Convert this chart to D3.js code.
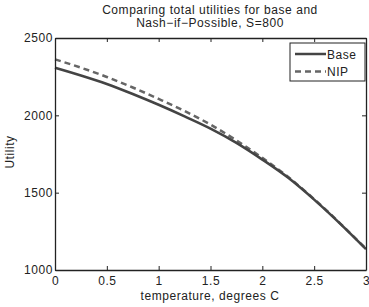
<!DOCTYPE html>
<html>
<head>
<meta charset="utf-8">
<script src="https://cdn.jsdelivr.net/npm/d3@7.9.0/dist/d3.min.js"></script>
<style>
  body { margin: 0; background: #fff; }
  text { font-family: "Liberation Sans", Arial, sans-serif; fill: #222; font-size: 12px; letter-spacing: 0.55px; }
</style>
</head>
<body>
<svg id="chart" width="369" height="307"></svg>
<script>
// values
const temps = [0, 0.25, 0.5, 0.75, 1, 1.25, 1.5, 1.75, 2, 2.25, 2.5, 2.75, 3];
const baseUtil = [2308, 2258, 2203, 2138, 2068, 1993, 1914, 1822, 1714, 1596, 1455, 1300, 1135];
const nipUtil = [2362, 2308, 2248, 2180, 2106, 2028, 1940, 1838, 1725, 1601, 1458, 1302, 1137];
const xTicks = [0, 0.5, 1, 1.5, 2, 2.5, 3];
const yTicks = [1000, 1500, 2000, 2500];
const seriesNames = ['Base', 'NIP'];

const svg = d3.select('#chart');
const plotL = 55, plotR = 366, plotT = 38, plotB = 270;

const x = d3.scaleLinear().domain([0, 3]).range([plotL, plotR]);
const y = d3.scaleLinear().domain([1000, 2500]).range([plotB, plotT]);

// title
svg.append('text').attr('x', 210).attr('y', 14).attr('text-anchor', 'middle')
  .text('Comparing total utilities for base and');
svg.append('text').attr('x', 210).attr('y', 27).attr('text-anchor', 'middle')
  .text('Nash\u2212if\u2212Possible, S=800');

// lines
const line = d3.line().x((d, i) => x(temps[i])).y(d => y(d)).curve(d3.curveMonotoneX);
svg.append('path').attr('d', line(nipUtil)).attr('fill', 'none')
  .attr('stroke', '#666').attr('stroke-width', 2.5).attr('stroke-dasharray', '6,4');
svg.append('path').attr('d', line(baseUtil)).attr('fill', 'none')
  .attr('stroke', '#444').attr('stroke-width', 2.6);

// axes, MATLAB style box with inward ticks
const axisColor = '#222';
const gx = svg.append('g').attr('transform', `translate(0,${plotB})`)
  .call(d3.axisBottom(x).tickValues(xTicks).tickSizeInner(-4).tickSizeOuter(0).tickPadding(6).tickFormat(d3.format('')));
const gxTop = svg.append('g').attr('transform', `translate(0,${plotT})`)
  .call(d3.axisTop(x).tickValues(xTicks).tickSizeInner(-4).tickSizeOuter(0).tickFormat(''));
const gy = svg.append('g').attr('transform', `translate(${plotL},0)`)
  .call(d3.axisLeft(y).tickValues(yTicks).tickSizeInner(-4).tickSizeOuter(0).tickPadding(2).tickFormat(d3.format('d')));
const gyR = svg.append('g').attr('transform', `translate(${plotR},0)`)
  .call(d3.axisRight(y).tickValues(yTicks).tickSizeInner(-4).tickSizeOuter(0).tickFormat(''));

[gx, gxTop, gy, gyR].forEach(g => {
  g.attr('font-size', null).attr('font-family', null);
  g.select('.domain').attr('stroke', axisColor).attr('stroke-width', 1.3);
  g.selectAll('.tick line').attr('stroke', axisColor);
  g.selectAll('.tick text').attr('fill', '#222');
});

// axis titles
svg.append('text').attr('x', 210).attr('y', 300).attr('text-anchor', 'middle')
  .text('temperature, degrees C');
svg.append('text').attr('transform', 'translate(14,152) rotate(-90)').attr('text-anchor', 'middle')
  .text('Utility');

// legend
const lg = svg.append('g');
lg.append('rect').attr('x', 290).attr('y', 43).attr('width', 75).attr('height', 38)
  .attr('fill', '#fff').attr('stroke', '#222').attr('stroke-width', 1);
seriesNames.forEach((name, i) => {
  const ly = 54 + i * 17.5;
  lg.append('line').attr('x1', 295).attr('x2', 326).attr('y1', ly).attr('y2', ly)
    .attr('stroke', i === 0 ? '#444' : '#666').attr('stroke-width', 2.5)
    .attr('stroke-dasharray', i === 0 ? null : '6,4');
  lg.append('text').attr('x', 327).attr('y', ly + 4.5).text(name);
});
</script>
</body>
</html>
